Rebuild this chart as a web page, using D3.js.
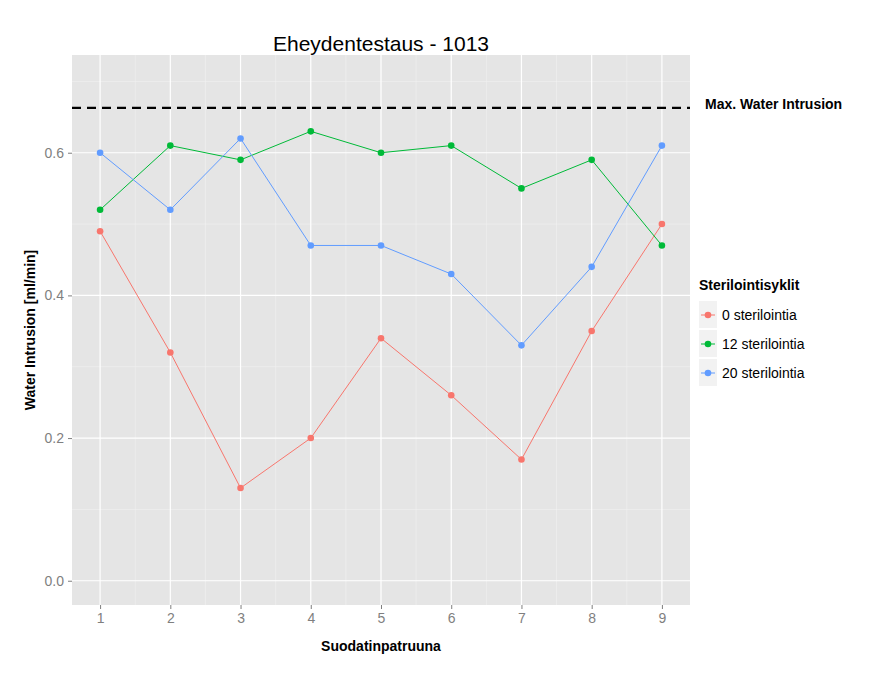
<!DOCTYPE html><html><head><meta charset="utf-8"><script src="https://cdn.jsdelivr.net/npm/d3@7"></script>
<style>body{margin:0;background:#fff}text{font-family:Arial,"Liberation Sans",sans-serif}</style></head><body>
<svg id="c" width="896" height="684"></svg>
<script>
const xs=[1,2,3,4,5,6,7,8,9];
const seriesNames=["0 sterilointia","12 sterilointia","20 sterilointia"];
const colors=["#F8766D","#00BA38","#619CFF"];
const s0=[0.49,0.32,0.13,0.20,0.34,0.26,0.17,0.35,0.50];
const s12=[0.52,0.61,0.59,0.63,0.60,0.61,0.55,0.59,0.47];
const s20=[0.60,0.52,0.62,0.47,0.47,0.43,0.33,0.44,0.61];
const yTicks=[0,0.2,0.4,0.6];
const maxLine=0.663;
const all=[s0,s12,s20];
const svg=d3.select("#c");
const L=72,R=690,T=55,B=605;
const x=d3.scaleLinear().domain([0.6,9.4]).range([L,R]);
const y=d3.scaleLinear().domain([-0.034,0.737]).range([B,T]);
svg.append("rect").attr("x",L).attr("y",T).attr("width",R-L).attr("height",B-T).attr("fill","#E5E5E5");
[0.1,0.3,0.5,0.7].forEach(v=>svg.append("line").attr("x1",L).attr("x2",R).attr("y1",y(v)).attr("y2",y(v)).attr("stroke","#F2F2F2").attr("stroke-width",0.6));
d3.range(1.5,9,1).forEach(v=>svg.append("line").attr("x1",x(v)).attr("x2",x(v)).attr("y1",T).attr("y2",B).attr("stroke","#F2F2F2").attr("stroke-width",0.6));
yTicks.forEach(v=>svg.append("line").attr("x1",L).attr("x2",R).attr("y1",y(v)).attr("y2",y(v)).attr("stroke","#fff").attr("stroke-width",1.2));
xs.forEach(v=>svg.append("line").attr("x1",x(v)).attr("x2",x(v)).attr("y1",T).attr("y2",B).attr("stroke","#fff").attr("stroke-width",1.2));
const ya=svg.append("g").attr("transform",`translate(${L},0)`).call(d3.axisLeft(y).tickValues(yTicks).tickFormat(d3.format(".1f")).tickSize(4).tickPadding(4));
const xa=svg.append("g").attr("transform",`translate(0,${B})`).call(d3.axisBottom(x).tickValues(xs).tickSize(4).tickPadding(4));
[ya,xa].forEach(a=>{a.select(".domain").remove();a.selectAll("line").attr("stroke","#7F7F7F");a.selectAll("text").attr("fill","#7F7F7F").style("font-size","14px");});
svg.append("line").attr("x1",L).attr("x2",R).attr("y1",y(maxLine)).attr("y2",y(maxLine)).attr("stroke","#000").attr("stroke-width",2.2).attr("stroke-dasharray","9,6");
svg.append("text").attr("x",705).attr("y",y(maxLine)+1).text("Max. Water Intrusion").style("font-size","14px").style("font-weight","bold");
const line=d3.line().x((d,i)=>x(xs[i])).y(d=>y(d));
all.forEach((s,k)=>{
 svg.append("path").attr("d",line(s)).attr("fill","none").attr("stroke",colors[k]).attr("stroke-width",1);
 svg.selectAll(null).data(s).enter().append("circle").attr("cx",(d,i)=>x(xs[i])).attr("cy",d=>y(d)).attr("r",3.3).attr("fill",colors[k]);
});
svg.append("text").attr("x",(L+R)/2).attr("y",51).attr("text-anchor","middle").text("Eheydentestaus - 1013").style("font-size","21px");
svg.append("text").attr("x",(L+R)/2).attr("y",651).attr("text-anchor","middle").text("Suodatinpatruuna").style("font-size","14px").style("font-weight","bold");
svg.append("text").attr("transform",`translate(35,${(T+B)/2}) rotate(-90)`).attr("text-anchor","middle").text("Water Intrusion [ml/min]").style("font-size","14px").style("font-weight","bold");
svg.append("text").attr("x",699).attr("y",290).text("Sterilointisyklit").style("font-size","14px").style("font-weight","bold");
seriesNames.forEach((n,k)=>{
 const yy=315+k*29;
 svg.append("rect").attr("x",699).attr("y",yy-14).attr("width",18).attr("height",27).attr("fill","#F2F2F2");
 svg.append("line").attr("x1",701).attr("x2",715).attr("y1",yy).attr("y2",yy).attr("stroke",colors[k]);
 svg.append("circle").attr("cx",708).attr("cy",yy).attr("r",3.3).attr("fill",colors[k]);
 svg.append("text").attr("x",722).attr("y",yy+5).text(n).style("font-size","14px");
});
</script></body></html>
